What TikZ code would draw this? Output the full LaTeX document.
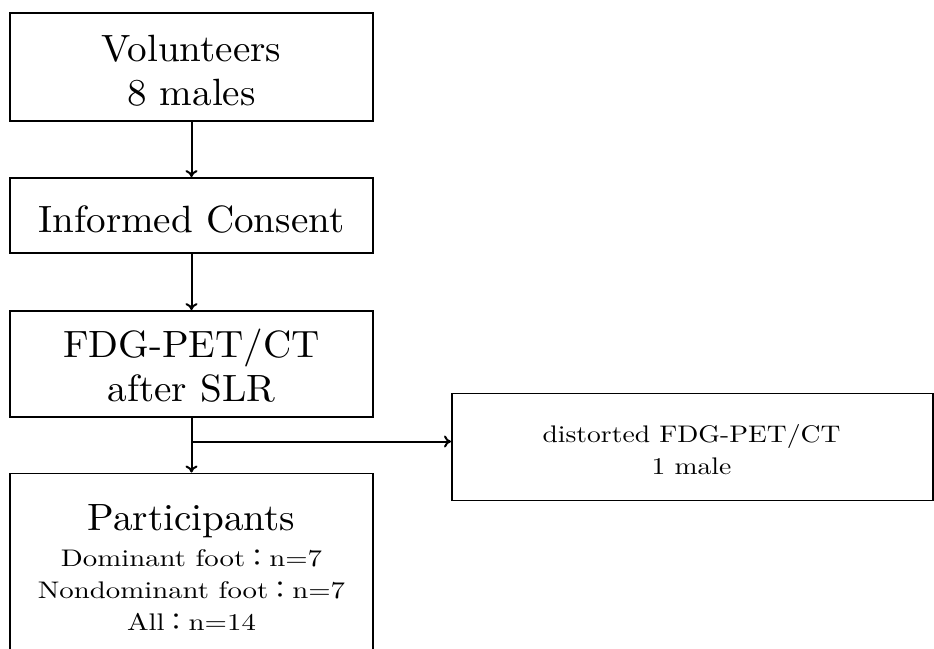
\documentclass[tikz,border=0pt]{standalone}
\usepackage{fontspec}
\setmainfont{lmroman10-regular.otf}[FakeStretch=1.03]
\newfontfamily\smallfont{lmroman10-regular.otf}[FakeStretch=1.15]
\newfontfamily\listfont{lmroman10-regular.otf}[FakeStretch=1.2]
\newfontfamily\cjk{Noto Sans CJK JP}
\usetikzlibrary{arrows.meta}
\newcommand{\fwc}{{\cjk ：}}
\begin{document}
\begin{tikzpicture}[x=1pt,y=-1pt,
  box/.style={draw,line width=1.8pt,inner sep=0pt},
  conn/.style={line width=2pt,-{To[length=7pt,width=12pt]}},
  big/.style={inner sep=0pt,align=center,font=\fontsize{38}{44}\selectfont},
  small/.style={inner sep=0pt,align=center,font=\smallfont\fontsize{24}{32}\selectfont},
  listtext/.style={inner sep=0pt,align=center,font=\listfont\fontsize{24}{32}\selectfont}]
\useasboundingbox (0,0) rectangle (934,648);
\clip (0,0) rectangle (934,648);
% boxes
\node[box,minimum width=363pt,minimum height=108pt] (vol) at (191.5,67) {};
\node[box,minimum width=363pt,minimum height=75pt] (ic) at (191.5,215.5) {};
\node[box,minimum width=363pt,minimum height=106pt] (pet) at (191.5,364) {};
\node[box,minimum width=363pt,minimum height=190pt,anchor=north] (part) at (191.5,472.5) {};
\node[box,minimum width=481pt,minimum height=107pt,anchor=north west] (dist) at (451,392.5) {};
% texts
\node[big] (voltext) at (191.5,70.8) {Volunteers\\8 males};
\node[big,anchor=base] (ictext) at (191.5,232) {Informed Consent};
\node[big] (pettext) at (191.5,365.5) {FDG-PET/CT\\after SLR};
\node[big,anchor=base] (ptitle) at (191.5,530) {Participants};
\node[listtext] (plist) at (191.5,590) {Dominant foot\fwc n=7\\Nondominant foot\fwc n=7\\All\fwc n=14};
\node[small] (disttext) at (691.5,450) {distorted FDG-PET/CT\\1 male};
% connectors
\coordinate (split) at (191.5,441.5);
\draw[conn] (vol.south) -- (ic.north);
\draw[conn] (ic.south) -- (pet.north);
\draw[conn] (pet.south) -- (part.north);
\draw[conn] (split) -- (split -| dist.west);
\end{tikzpicture}
\end{document}
